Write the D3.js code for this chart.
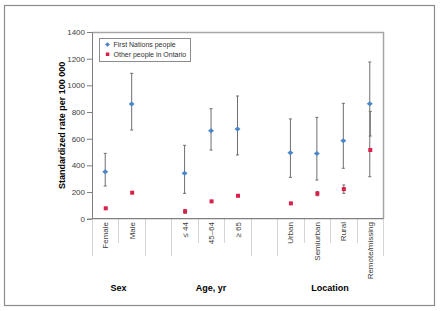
<!DOCTYPE html>
<html>
<head>
<meta charset="utf-8">
<script src="https://cdn.jsdelivr.net/npm/d3@7"></script>
<style>
  body { margin: 0; background: #fff; }
  svg text { font-family: "Liberation Sans", Arial, sans-serif; }
</style>
</head>
<body>
<svg id="chart" width="440" height="311"></svg>
<script>
// categories (blank slots separate the groups)
const categories = ["Female", "Male", "", "≤ 44", "45–64", "≥ 65", "", "Urban", "Semiurban", "Rural", "Remote/missing"];
const groupNames = ["Sex", "Age, yr", "Location"];
const groupStart = [0, 3, 7];
const groupEnd = [2, 6, 11];

// First Nations people
const fnRate = [352, 860, null, 340, 660, 673, null, 495, 488, 585, 862];
const fnLow = [245, 665, null, 190, 515, 478, null, 310, 290, 378, 315];
const fnHigh = [490, 1090, null, 550, 825, 920, null, 748, 760, 865, 1175];

// Other people in Ontario
const otRate = [78, 195, null, 55, 130, 172, null, 115, 188, 222, 515];
const otLow = [72, 190, null, 40, 125, 165, null, 110, 172, 190, 620];
const otHigh = [84, 200, null, 70, 135, 180, null, 120, 204, 253, 805];

const yTicks = [0, 200, 400, 600, 800, 1000, 1200, 1400];

const svg = d3.select("#chart");
const plotLeft = 92, plotRight = 383, plotTop = 32, plotBottom = 218.7;

// outer frame
svg.append("rect")
    .attr("x", 4.5).attr("y", 5.5)
    .attr("width", 430).attr("height", 300)
    .attr("fill", "none").attr("stroke", "#8c8c8c").attr("stroke-width", 1.2);

const x = d3.scaleBand()
    .domain(d3.range(categories.length))
    .range([plotLeft, plotRight]);

const y = d3.scaleLinear()
    .domain([0, 1400])
    .range([plotBottom, plotTop]);

// plot frame (top + right lighter)
svg.append("path")
    .attr("d", `M${plotLeft},${plotTop + 0.5}H${plotRight + 0.5}V${plotBottom}`)
    .attr("fill", "none").attr("stroke", "#a6a6a6").attr("stroke-width", 1.5);

// y axis
const yAxis = svg.append("g")
    .attr("transform", `translate(${plotLeft},0)`)
    .call(d3.axisLeft(y).tickValues(yTicks).tickFormat(d3.format("d")).tickSize(5).tickPadding(2));
yAxis.select(".domain").attr("stroke", "#7f7f7f");
yAxis.selectAll(".tick line").attr("stroke", "#7f7f7f");
yAxis.selectAll(".tick text")
    .attr("fill", "#404040")
    .style("font-size", "8px");

// y title
svg.append("text")
    .attr("transform", `translate(65,${(plotTop + plotBottom) / 2}) rotate(-90)`)
    .attr("text-anchor", "middle")
    .style("font-size", "9px")
    .style("font-weight", "bold")
    .text("Standardized rate per 100 000");

// category separators below axis
const longEdges = [0, 2, 3, 6, 7, 11];
d3.range(categories.length + 1).forEach(i => {
    const xx = i < categories.length ? x(i) : plotRight;
    svg.append("line")
        .attr("x1", Math.round(xx) + 0.5).attr("x2", Math.round(xx) + 0.5)
        .attr("y1", plotBottom).attr("y2", longEdges.includes(i) ? 256 : 243)
        .attr("stroke", "#d4d4d4").attr("stroke-width", 1);
});

// x axis line
svg.append("line")
    .attr("x1", plotLeft).attr("x2", plotRight + 0.5)
    .attr("y1", plotBottom).attr("y2", plotBottom)
    .attr("stroke", "#7f7f7f").attr("stroke-width", 1.2);

// category labels
svg.append("g").selectAll("text")
    .data(categories)
    .join("text")
    .attr("transform", (d, i) => `translate(${x(i) + x.bandwidth() / 2 + 3},222) rotate(-90)`)
    .attr("text-anchor", "end")
    .attr("fill", "#404040")
    .style("font-size", "8px")
    .text(d => d);

// group labels
svg.append("g").selectAll("text")
    .data(groupNames)
    .join("text")
    .attr("x", (d, i) => (x(groupStart[i]) + (groupEnd[i] < categories.length ? x(groupEnd[i]) : plotRight)) / 2)
    .attr("y", 291)
    .attr("text-anchor", "middle")
    .style("font-size", "9px")
    .style("font-weight", "bold")
    .text(d => d);

// error bars
function errorBars(low, high, dx) {
    const g = svg.append("g").attr("stroke", "#6e6e6e").attr("stroke-width", 1);
    low.forEach((lo, i) => {
        if (lo == null) return;
        const cx = x(i) + x.bandwidth() / 2 + dx;
        g.append("line").attr("x1", cx).attr("x2", cx).attr("y1", y(lo)).attr("y2", y(high[i]));
        g.append("line").attr("x1", cx - 1.5).attr("x2", cx + 1.5).attr("y1", y(lo)).attr("y2", y(lo));
        g.append("line").attr("x1", cx - 1.5).attr("x2", cx + 1.5).attr("y1", y(high[i])).attr("y2", y(high[i]));
    });
}
errorBars(fnLow, fnHigh, 0);
errorBars(otLow, otHigh, 0.5);

const blue = "#4a86c8", red = "#d8204a";

// First Nations markers (diamonds)
svg.append("g").selectAll("path")
    .data(fnRate.map((v, i) => ({v, i})).filter(d => d.v != null))
    .join("path")
    .attr("d", d => {
        const cx = x(d.i) + x.bandwidth() / 2, cy = y(d.v);
        return `M${cx - 3},${cy}L${cx},${cy - 2.5}L${cx + 3},${cy}L${cx},${cy + 2.5}Z`;
    })
    .attr("fill", blue);

// Other people markers (squares)
svg.append("g").selectAll("rect")
    .data(otRate.map((v, i) => ({v, i})).filter(d => d.v != null))
    .join("rect")
    .attr("x", d => x(d.i) + x.bandwidth() / 2 + 0.5 - 2)
    .attr("y", d => y(d.v) - 2)
    .attr("width", 4).attr("height", 4)
    .attr("fill", red);

// legend
const legend = svg.append("g");
legend.append("rect")
    .attr("x", 99.5).attr("y", 38.5).attr("width", 91).attr("height", 23)
    .attr("fill", "#fff").attr("stroke", "#8c8c8c").attr("stroke-width", 1);
legend.append("path")
    .attr("d", "M105,44.5L107.5,42.3L110,44.5L107.5,46.7Z")
    .attr("fill", blue);
legend.append("rect")
    .attr("x", 105.8).attr("y", 52.5).attr("width", 3.5).attr("height", 3.5)
    .attr("fill", red);
legend.append("text")
    .attr("x", 113.5).attr("y", 47)
    .style("font-size", "7px")
    .attr("fill", "#303030")
    .text("First Nations people");
legend.append("text")
    .attr("x", 113.5).attr("y", 57)
    .style("font-size", "7px")
    .attr("fill", "#303030")
    .text("Other people in Ontario");
</script>
</body>
</html>
